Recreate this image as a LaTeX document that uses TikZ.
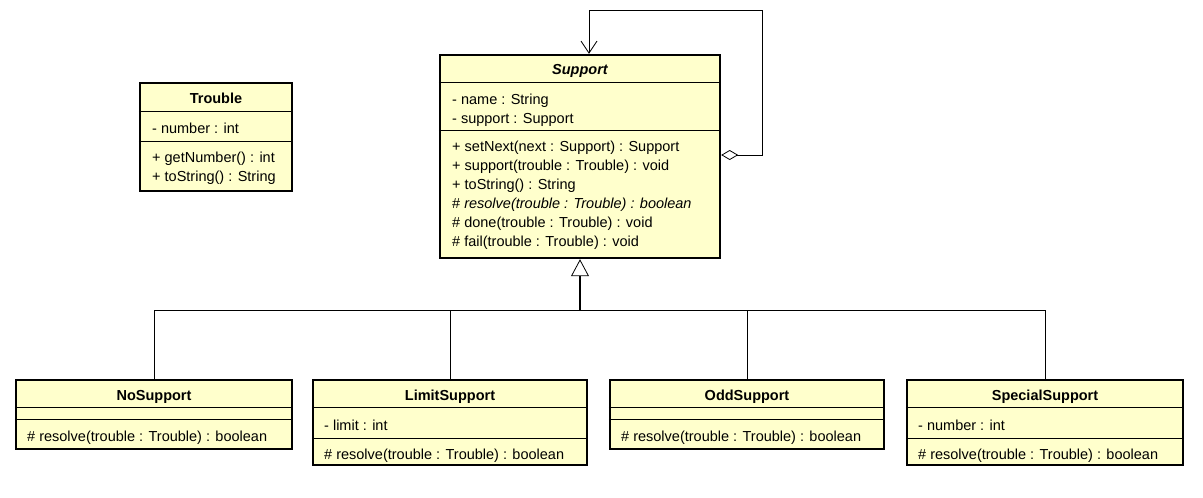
\documentclass[tikz,border=0pt]{standalone}
\usepackage{fontspec}
\setmainfont{Liberation Sans}
\usetikzlibrary{positioning, arrows.meta}
\definecolor{classfill}{RGB}{255,255,204}
\tikzset{
    class/.style={draw, line width=2.4pt, fill=classfill, inner sep=0pt}, % the outer box of a class
    title/.style={font=\bfseries\fontsize{14.5}{19}\selectfont, inner sep=0pt, yshift=-1.5pt},
    member/.style={anchor=west, align=left, inner sep=0pt, yshift=-1.5pt, font=\fontsize{14.5}{19}\selectfont},
    sep/.style={line width=0.8pt}, % lines between compartments
    link/.style={line width=0.8pt},
    inherit/.style={link, -{Triangle[open, length=17pt, width=18pt, line width=0.8pt]}},
    aggr/.style={link, {Diamond[open, fill=white, length=17pt, width=10pt, line width=0.8pt]}-{Straight Barb[length=12pt, width=16pt, line width=0.8pt]}},
}

\begin{document}
\begin{tikzpicture}[x=1pt, y=-1pt]
    \fill[white] (0,0) rectangle (1203,498);
    \useasboundingbox (0,0) rectangle (1203,498);

    % Support
    \node[class, minimum width=280, minimum height=203] (sup) at (580,156.5) {};
    \draw[sep] (sup.west |- 0,82) -- (sup.east |- 0,82)
               (sup.west |- 0,130) -- (sup.east |- 0,130);
    \node[title, font=\bfseries\itshape\fontsize{14.5}{19}\selectfont] (sup-title) at (580,69) {Support};
    \node[member] (sup-attr) at (452,108.5) {- name : String\\- support : Support};
    \node[member] (sup-ops) at (452,193.5) {+ setNext(next : Support) : Support\\
        + support(trouble : Trouble) : void\\+ toString() : String\\
        \# \textit{resolve(trouble : Trouble) : boolean}\\
        \# done(trouble : Trouble) : void\\\# fail(trouble : Trouble) : void};

    % Trouble
    \node[class, minimum width=152, minimum height=108] (trouble) at (216,137) {};
    \draw[sep] (trouble.west |- 0,111) -- (trouble.east |- 0,111)
               (trouble.west |- 0,141) -- (trouble.east |- 0,141);
    \node[title] (trouble-title) at (216,97) {Trouble};
    \node[member] (trouble-attr) at (152,127) {- number : int};
    \node[member] (trouble-ops) at (152,166.5) {+ getNumber() : int\\+ toString() : String};

    % subclasses
    \node[class, minimum width=276, minimum height=69] (no) at (154,414.5) {};
    \node[class, minimum width=274, minimum height=85] (limit) at (450,422.5) {};
    \node[class, minimum width=274, minimum height=69] (odd) at (747,414.5) {};
    \node[class, minimum width=276, minimum height=85] (special) at (1045,422.5) {};
    \foreach \c in {no, limit, odd, special}
        \draw[sep] (\c.west |- 0,407) -- (\c.east |- 0,407);
    \foreach \c in {no, odd}
        \draw[sep] (\c.west |- 0,419) -- (\c.east |- 0,419);
    \foreach \c in {limit, special}
        \draw[sep] (\c.west |- 0,438) -- (\c.east |- 0,438);
    \node[title] (no-title) at (154,395) {NoSupport};
    \node[title] (limit-title) at (450,395) {LimitSupport};
    \node[title] (odd-title) at (747,395) {OddSupport};
    \node[title] (special-title) at (1045,395) {SpecialSupport};
    \node[member] (no-ops) at (27,436) {\# resolve(trouble : Trouble) : boolean};
    \node[member] (limit-attr) at (324,424) {- limit : int};
    \node[member] (limit-ops) at (324,454) {\# resolve(trouble : Trouble) : boolean};
    \node[member] (odd-ops) at (621,436) {\# resolve(trouble : Trouble) : boolean};
    \node[member] (special-attr) at (918,424) {- number : int};
    \node[member] (special-ops) at (918,454) {\# resolve(trouble : Trouble) : boolean};

    % generalization
    \coordinate (joint) at (sup.south |- 0,310);
    \draw[link] (no.north) -- (no.north |- joint) -- (special.north |- joint) -- (special.north);
    \draw[link] (limit.north) -- (limit.north |- joint)
                (odd.north) -- (odd.north |- joint);
    \draw[inherit, line width=1.6pt] (joint) -- (sup.south);

    % self aggregation
    \draw[aggr] (sup.east |- 0,155) -| (762,10) -| (sup.north -| 589,0);
\end{tikzpicture}
\end{document}
